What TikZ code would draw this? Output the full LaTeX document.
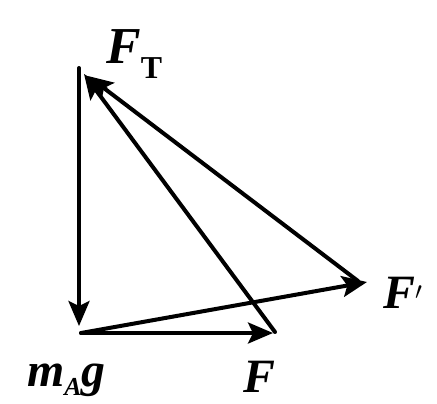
\documentclass[tikz,border=0pt]{standalone}
\usepackage{fontspec}
\setmainfont{Liberation Serif}
\usetikzlibrary{arrows.meta}
\begin{document}
\begin{tikzpicture}[x=1bp,y=-1bp,
  vec/.style={line width=4bp,line cap=round,-{Stealth[length=25bp,width=21bp,inset=5bp]}},
  lbl/.style={inner sep=0pt,anchor=base west,font=\fontsize{48}{48}\selectfont\bfseries\itshape}]
\useasboundingbox (0,0) rectangle (437,403);
\coordinate (Tv) at (79,68);
\coordinate (Ta) at (84,74);
\coordinate (Tb) at (88,76);
\coordinate (Otip) at (79,326);
\coordinate (O) at (81,333);
\coordinate (F) at (273,333);
\coordinate (Fc) at (275,332);
\coordinate (Fp) at (367,282);
\coordinate (Fps) at (358,281);
\draw[vec] (Tv) -- (Otip);
\draw[vec] (O) -- (F);
\draw[vec] (O) -- (Fp);
\draw[vec] (Fc) -- (Ta);
\draw[vec] (Fps) -- (Tb);
\node[lbl,font=\fontsize{52}{52}\selectfont\bfseries\itshape] (lT) at (106,63) {F\raisebox{-15bp}{\fontsize{32}{32}\selectfont\upshape T}};
\node[lbl] (lm) at (27,386) {m\raisebox{-9bp}{\fontsize{26}{26}\selectfont A}g};
\node[lbl] (lF) at (243,392) {F};
\node[lbl] (lFp) at (383,308) {F$'$};
\end{tikzpicture}
\end{document}
